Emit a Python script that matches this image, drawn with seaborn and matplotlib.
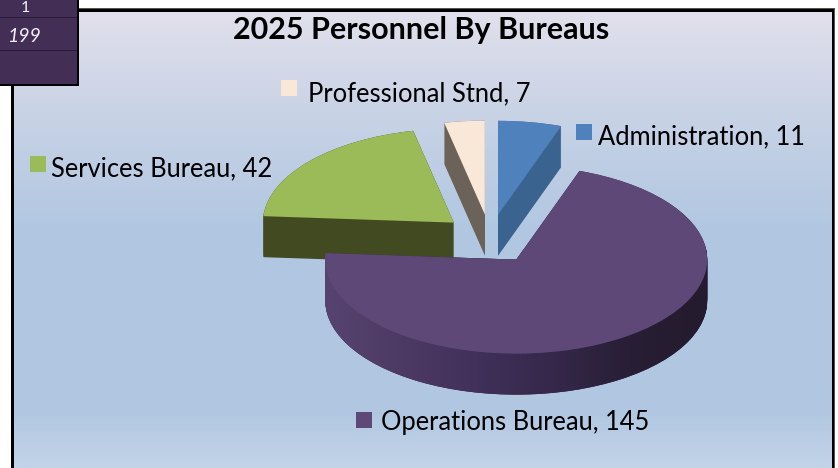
import numpy as np
import matplotlib
matplotlib.use("Agg")
import matplotlib.pyplot as plt
from matplotlib.colors import LinearSegmentedColormap
from matplotlib.patches import PathPatch, Rectangle
from matplotlib.path import Path
import seaborn as sns

TITLE = "2025 Personnel By Bureaus"
categories = ["Administration", "Operations Bureau", "Services Bureau", "Professional Stnd"]
values = [11, 145, 42, 7]
top_colors = ["#4F81BD", "#5E4878", "#9BBB59", "#F9E8D8"]
side_colors = ["#3A6390", "#2E2340", "#414A20", "#6B635A"]
label_px = [(598, 144), (381, 430), (51, 176), (308, 101)]
key_px = [(576, 124), (356, 412), (30, 156), (281, 80)]
drop_px = [0, 2, 0, 0]
table_texts = ["1", "199"]

W, H = 838, 468
sns.set_theme(style="white")
plt.rcParams["font.family"] = ["Lato", "DejaVu Sans"]

fig = plt.figure(figsize=(W / 100, H / 100), dpi=100, facecolor="white")
ax = fig.add_axes([0, 0, 1, 1])

RX, RY, CX, CY, DEPTH = 191.0, 94.0, 490.0, 238.0, 41

explode = [0.25] * len(values)


def draw_layer(offset_px, colors):
    return ax.pie(values, explode=explode, colors=colors, startangle=90, counterclock=False,
                  center=(0, -offset_px / RY), wedgeprops=dict(linewidth=0))[0]


def finish_limits():
    ax.set_aspect("auto")
    ax.set_xlim((0 - CX) / RX, (W - CX) / RX)
    ax.set_ylim((CY - H) / RY, (CY - 0) / RY)
    ax.axis("off")


order = [3, 0, 2, 1]
for idx in order:
    wall_paths = []
    for d in range(DEPTH, -1, -1):
        wedges = draw_layer(d + drop_px[idx], side_colors)
        for j, w in enumerate(wedges):
            if j != idx:
                w.remove()
            else:
                w.set_zorder(order.index(idx) * 3 + 1)
                wall_paths.append(w.get_path().transformed(w.get_patch_transform()))
    if categories[idx] == "Operations Bureau":
        cm = LinearSegmentedColormap.from_list(
            "wall", ["#57436F", "#4D3A64", "#40305A", "#35284A", "#281E35", "#241B2E"])
        clip = PathPatch(Path.make_compound_path(*wall_paths), transform=ax.transData,
                         fc="none", ec="none")
        ax.add_patch(clip)
        im = ax.imshow(np.linspace(0, 1, 256)[None, :], cmap=cm, aspect="auto",
                       extent=((325 - CX) / RX, (707 - CX) / RX, (CY - 400) / RY, (CY - 250) / RY),
                       zorder=order.index(idx) * 3 + 2)
        im.set_clip_path(clip)
    top = draw_layer(drop_px[idx], top_colors)
    for j, w in enumerate(top):
        if j != idx:
            w.remove()
        else:
            w.set_zorder(order.index(idx) * 3 + 3)
finish_limits()

# background panel
bg = LinearSegmentedColormap.from_list(
    "bg", [(0, "#E2E0EC"), (0.22, "#C9D3E6"), (0.48, "#B1C7E1"), (0.88, "#B1C7E1"), (1, "#C3D4E9")])
bgax = fig.add_axes([13 / W, 0, (832 - 13) / W, 1 - 10 / H], zorder=-1)
bgax.imshow(np.linspace(0, 1, 256)[:, None], cmap=bg, aspect="auto")
bgax.axis("off")


def fx(p):
    return p / W


def fy(p):
    return 1 - p / H


def box(x0, y0, x1, y1, color, z=1):
    fig.add_artist(Rectangle((fx(x0), fy(y1)), (x1 - x0) / W, (y1 - y0) / H,
                             transform=fig.transFigure, fc=color, ec="none", zorder=z))


# frame
box(11, 8, 835, 9, "#555555")
box(834, 8, 835, H, "#555555")
box(11, 9, 13.5, H, "black")
box(11, 9, 834, 11.5, "black")
box(832, 9, 834, H, "black")

# table corner
box(0, 0, 77, 84, "#432F55", 5)
box(77, 0, 78.5, 86, "black", 6)
box(0, 84, 78.5, 86, "black", 6)
for yy in (17.5, 50):
    box(0, yy - 0.5, 77, yy + 0.5, "#2A1C38", 6)
fig.text(fx(25), fy(11.5), table_texts[0], color="#F2EEF5", fontsize=11.5, ha="center", va="baseline", zorder=7)
fig.text(fx(24), fy(42.5), table_texts[1], color="#F2EEF5", fontsize=14, style="italic", ha="center", va="baseline", zorder=7)

# title
fig.text(fx(421.5), fy(39), TITLE, fontsize=22, fontweight="bold", color="black", ha="center", va="baseline")

# labels
for cat, val, col, (lx, ly), (kx, ky) in zip(categories, values, top_colors, label_px, key_px):
    fig.text(fx(lx), fy(ly), f"{cat}, {val}", fontsize=18.4, color="black", ha="left", va="baseline")
    box(kx, ky, kx + 16, ky + 16, col)

fig.savefig("out.png", dpi=100, facecolor="white")
